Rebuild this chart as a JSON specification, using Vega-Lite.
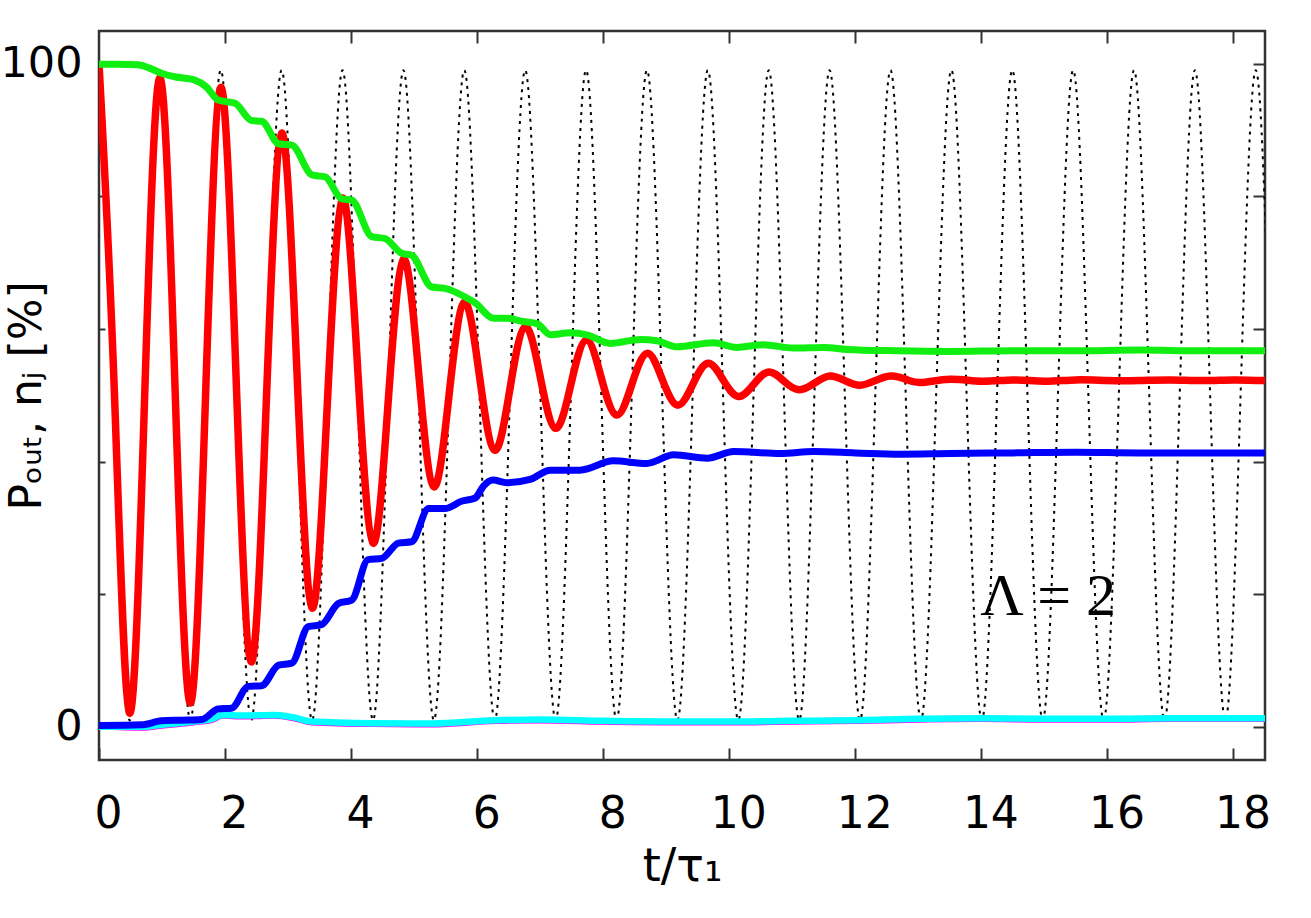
{
  "$schema": "https://vega.github.io/schema/vega-lite/v6.json",
  "autosize": {"type": "none"},
  "padding": {"left": 99, "top": 31, "right": 46, "bottom": 158},
  "width": 1166,
  "height": 729,
  "background": "white",
  "config": {
    "view": {"stroke": "#333333", "strokeWidth": 2.5},
    "axis": {
      "domain": false,
      "grid": false,
      "tickColor": "#333333",
      "tickWidth": 2,
      "labelFont": "DejaVu Sans",
      "titleFont": "DejaVu Sans",
      "labelColor": "#000000",
      "titleColor": "#000000",
      "titleFontWeight": "normal"
    }
  },
  "datasets": {
    "osc": [
      {"t": 0, "v": 100}, {"t": 0.2415, "v": 50}, {"t": 0.483, "v": 1}, {"t": 0.7245, "v": 50},
      {"t": 0.966, "v": 99}, {"t": 1.2075, "v": 50}, {"t": 1.449, "v": 1}, {"t": 1.6905, "v": 50},
      {"t": 1.932, "v": 99}, {"t": 2.1735, "v": 50}, {"t": 2.415, "v": 1}, {"t": 2.6565, "v": 50},
      {"t": 2.898, "v": 99}, {"t": 3.1395, "v": 50}, {"t": 3.381, "v": 1}, {"t": 3.6225, "v": 50},
      {"t": 3.864, "v": 99}, {"t": 4.1055, "v": 50}, {"t": 4.347, "v": 1}, {"t": 4.5885, "v": 50},
      {"t": 4.83, "v": 99}, {"t": 5.0715, "v": 50}, {"t": 5.313, "v": 1}, {"t": 5.5545, "v": 50},
      {"t": 5.796, "v": 99}, {"t": 6.0375, "v": 50}, {"t": 6.279, "v": 1}, {"t": 6.5205, "v": 50},
      {"t": 6.762, "v": 99}, {"t": 7.0035, "v": 50}, {"t": 7.245, "v": 1}, {"t": 7.4865, "v": 50},
      {"t": 7.728, "v": 99}, {"t": 7.9695, "v": 50}, {"t": 8.211, "v": 1}, {"t": 8.4525, "v": 50},
      {"t": 8.694, "v": 99}, {"t": 8.9355, "v": 50}, {"t": 9.177, "v": 1}, {"t": 9.4185, "v": 50},
      {"t": 9.66, "v": 99}, {"t": 9.9015, "v": 50}, {"t": 10.143, "v": 1}, {"t": 10.3845, "v": 50},
      {"t": 10.626, "v": 99}, {"t": 10.8675, "v": 50}, {"t": 11.109, "v": 1}, {"t": 11.3505, "v": 50},
      {"t": 11.592, "v": 99}, {"t": 11.8335, "v": 50}, {"t": 12.075, "v": 1}, {"t": 12.3165, "v": 50},
      {"t": 12.558, "v": 99}, {"t": 12.7995, "v": 50}, {"t": 13.041, "v": 1}, {"t": 13.2825, "v": 50},
      {"t": 13.524, "v": 99}, {"t": 13.7655, "v": 50}, {"t": 14.007, "v": 1}, {"t": 14.2485, "v": 50},
      {"t": 14.49, "v": 99}, {"t": 14.7315, "v": 50}, {"t": 14.973, "v": 1}, {"t": 15.2145, "v": 50},
      {"t": 15.456, "v": 99}, {"t": 15.6975, "v": 50}, {"t": 15.939, "v": 1}, {"t": 16.1805, "v": 50},
      {"t": 16.422, "v": 99}, {"t": 16.6635, "v": 50}, {"t": 16.905, "v": 1}, {"t": 17.1465, "v": 50},
      {"t": 17.388, "v": 99}, {"t": 17.6295, "v": 50}, {"t": 17.871, "v": 1}, {"t": 18.1125, "v": 50},
      {"t": 18.354, "v": 99}, {"t": 18.5955, "v": 50}
    ],
    "red": [
      {"t": 0, "v": 100}, {"t": 0.242, "v": 51}, {"t": 0.483, "v": 2.1}, {"t": 0.725, "v": 50},
      {"t": 0.966, "v": 97.8}, {"t": 1.208, "v": 50.7}, {"t": 1.449, "v": 3.6}, {"t": 1.691, "v": 50},
      {"t": 1.932, "v": 96.4}, {"t": 2.174, "v": 53}, {"t": 2.415, "v": 9.8}, {"t": 2.657, "v": 49.6},
      {"t": 2.898, "v": 89.5}, {"t": 3.14, "v": 53.7}, {"t": 3.381, "v": 17.9}, {"t": 3.623, "v": 48.8},
      {"t": 3.864, "v": 79.7}, {"t": 4.106, "v": 53.7}, {"t": 4.347, "v": 27.7}, {"t": 4.589, "v": 49.1},
      {"t": 4.83, "v": 70.5}, {"t": 5.072, "v": 53.3}, {"t": 5.313, "v": 36.2}, {"t": 5.555, "v": 50.1},
      {"t": 5.796, "v": 64}, {"t": 6.038, "v": 52.8}, {"t": 6.279, "v": 41.7}, {"t": 6.521, "v": 51},
      {"t": 6.762, "v": 60.3}, {"t": 7.004, "v": 52.6}, {"t": 7.245, "v": 45}, {"t": 7.487, "v": 51.6},
      {"t": 7.728, "v": 58.3}, {"t": 7.97, "v": 52.6}, {"t": 8.211, "v": 47}, {"t": 8.453, "v": 51.6},
      {"t": 8.694, "v": 56.3}, {"t": 8.936, "v": 52.4}, {"t": 9.177, "v": 48.5}, {"t": 9.419, "v": 51.6},
      {"t": 9.66, "v": 54.8}, {"t": 9.902, "v": 52.3}, {"t": 10.143, "v": 49.8}, {"t": 10.385, "v": 51.6},
      {"t": 10.626, "v": 53.5}, {"t": 10.868, "v": 52.1}, {"t": 11.109, "v": 50.8}, {"t": 11.351, "v": 51.8},
      {"t": 11.592, "v": 52.9}, {"t": 11.834, "v": 52.2}, {"t": 12.075, "v": 51.5}, {"t": 12.317, "v": 52.2},
      {"t": 12.558, "v": 52.9}, {"t": 12.8, "v": 52.4}, {"t": 13.04, "v": 51.9}, {"t": 13.5, "v": 52.4},
      {"t": 14, "v": 52.1}, {"t": 14.5, "v": 52.3}, {"t": 15, "v": 52.1}, {"t": 15.5, "v": 52.3},
      {"t": 16, "v": 52.2}, {"t": 16.5, "v": 52.2}, {"t": 17, "v": 52.3}, {"t": 17.5, "v": 52.2},
      {"t": 18, "v": 52.3}, {"t": 18.5, "v": 52.2}
    ],
    "green": [
      {"t": 0, "v": 99.9}, {"t": 0.3, "v": 99.9}, {"t": 0.62, "v": 99.8}, {"t": 0.8, "v": 99.3},
      {"t": 1.0, "v": 98.5}, {"t": 1.2, "v": 98.0}, {"t": 1.52, "v": 97.5}, {"t": 1.7, "v": 96.5},
      {"t": 1.89, "v": 94.5}, {"t": 2.16, "v": 94.0}, {"t": 2.42, "v": 91.4}, {"t": 2.58, "v": 91.3},
      {"t": 2.85, "v": 87.9}, {"t": 3.06, "v": 87.7}, {"t": 3.38, "v": 83.2}, {"t": 3.59, "v": 82.9},
      {"t": 3.85, "v": 79.6}, {"t": 4.01, "v": 79.4}, {"t": 4.33, "v": 73.9}, {"t": 4.54, "v": 73.6},
      {"t": 4.8, "v": 71.4}, {"t": 4.96, "v": 71.1}, {"t": 5.28, "v": 66.3}, {"t": 5.49, "v": 66.1},
      {"t": 5.81, "v": 64.8}, {"t": 5.97, "v": 63.9}, {"t": 6.26, "v": 61.6}, {"t": 6.47, "v": 61.6},
      {"t": 6.73, "v": 61.1}, {"t": 6.95, "v": 60.8}, {"t": 7.16, "v": 59.1}, {"t": 7.48, "v": 59.4},
      {"t": 7.74, "v": 59.1}, {"t": 8.11, "v": 57.8}, {"t": 8.59, "v": 58.4}, {"t": 8.85, "v": 58.2},
      {"t": 9.17, "v": 57.3}, {"t": 9.75, "v": 57.9}, {"t": 10.12, "v": 57.2}, {"t": 10.54, "v": 57.6},
      {"t": 11.02, "v": 57.1}, {"t": 11.5, "v": 57.2}, {"t": 11.87, "v": 56.9}, {"t": 12.66, "v": 56.7},
      {"t": 13.5, "v": 56.6}, {"t": 14.5, "v": 56.7}, {"t": 15.5, "v": 56.7}, {"t": 16.5, "v": 56.8},
      {"t": 17.5, "v": 56.7}, {"t": 18.5, "v": 56.7}
    ],
    "blue": [
      {"t": 0, "v": 0.2}, {"t": 0.68, "v": 0.3}, {"t": 0.99, "v": 0.9}, {"t": 1.3, "v": 1.0},
      {"t": 1.63, "v": 1.1}, {"t": 1.89, "v": 2.7}, {"t": 2.1, "v": 2.8}, {"t": 2.37, "v": 6.1},
      {"t": 2.58, "v": 6.2}, {"t": 2.85, "v": 9.3}, {"t": 3.06, "v": 9.6}, {"t": 3.32, "v": 15.1},
      {"t": 3.53, "v": 15.4}, {"t": 3.8, "v": 18.6}, {"t": 4.01, "v": 19.1}, {"t": 4.27, "v": 25.2},
      {"t": 4.49, "v": 25.4}, {"t": 4.75, "v": 27.7}, {"t": 4.96, "v": 27.9}, {"t": 5.23, "v": 32.9},
      {"t": 5.49, "v": 32.9}, {"t": 5.75, "v": 34.0}, {"t": 5.97, "v": 34.5}, {"t": 6.1, "v": 36.3},
      {"t": 6.25, "v": 37.2}, {"t": 6.47, "v": 36.8}, {"t": 6.84, "v": 37.3}, {"t": 7.16, "v": 38.7},
      {"t": 7.63, "v": 38.7}, {"t": 8.16, "v": 40.1}, {"t": 8.69, "v": 39.7}, {"t": 9.12, "v": 41.0},
      {"t": 9.65, "v": 40.5}, {"t": 10.07, "v": 41.5}, {"t": 10.81, "v": 41.2}, {"t": 11.34, "v": 41.5},
      {"t": 12.0, "v": 41.3}, {"t": 12.71, "v": 41.1}, {"t": 13.5, "v": 41.2}, {"t": 14.5, "v": 41.3},
      {"t": 15.5, "v": 41.4}, {"t": 16.5, "v": 41.3}, {"t": 17.5, "v": 41.3}, {"t": 18.5, "v": 41.3}
    ],
    "magenta": [
      {"t": 0, "v": 0.1}, {"t": 0.7, "v": -0.1}, {"t": 1.0, "v": 0.2}, {"t": 1.5, "v": 0.7},
      {"t": 1.8, "v": 1.1}, {"t": 1.95, "v": 1.7}, {"t": 2.3, "v": 1.6}, {"t": 2.79, "v": 1.7},
      {"t": 3.1, "v": 1.3}, {"t": 3.37, "v": 0.7}, {"t": 4.33, "v": 0.45}, {"t": 5.28, "v": 0.4},
      {"t": 6.29, "v": 0.9}, {"t": 7, "v": 1.0}, {"t": 8, "v": 0.8}, {"t": 9, "v": 0.7},
      {"t": 10, "v": 0.7}, {"t": 11, "v": 0.8}, {"t": 12, "v": 0.9}, {"t": 13, "v": 1.1},
      {"t": 14, "v": 1.2}, {"t": 15, "v": 1.1}, {"t": 16, "v": 1.1}, {"t": 17, "v": 1.2},
      {"t": 18.5, "v": 1.2}
    ],
    "cyan": [
      {"t": 0, "v": 0.0}, {"t": 0.7, "v": 0.0}, {"t": 1.0, "v": 0.3}, {"t": 1.5, "v": 0.8},
      {"t": 1.8, "v": 1.2}, {"t": 1.95, "v": 1.8}, {"t": 2.3, "v": 1.7}, {"t": 2.79, "v": 1.8},
      {"t": 3.1, "v": 1.4}, {"t": 3.37, "v": 0.8}, {"t": 4.33, "v": 0.55}, {"t": 5.28, "v": 0.5},
      {"t": 6.29, "v": 1.0}, {"t": 7, "v": 1.1}, {"t": 8, "v": 0.9}, {"t": 9, "v": 0.8},
      {"t": 10, "v": 0.8}, {"t": 11, "v": 0.9}, {"t": 12, "v": 1.0}, {"t": 13, "v": 1.2},
      {"t": 14, "v": 1.3}, {"t": 15, "v": 1.2}, {"t": 16, "v": 1.2}, {"t": 17, "v": 1.3},
      {"t": 18.5, "v": 1.3}
    ],
    "note": [
      {"t": 15.06, "v": 16.9, "label": "Λ = 2"}
    ]
  },
  "resolve": {"axis": {"x": "independent", "y": "independent"}},
  "layer": [
    {
      "data": {"name": "osc"},
      "mark": {"type": "line", "interpolate": "natural", "color": "#000000", "strokeWidth": 2, "strokeDash": [3, 5], "clip": true},
      "encoding": {
        "x": {
          "field": "t", "type": "quantitative",
          "scale": {"domain": [0, 18.5], "nice": false, "zero": false},
          "axis": {
            "orient": "bottom",
            "values": [0, 2, 4, 6, 8, 10, 12, 14, 16, 18],
            "tickSize": -12,
            "labelPadding": 44,
            "labelOffset": 9,
            "labelFontSize": 44,
            "labelFlush": false,
            "title": "t/τ₁",
            "titleFontSize": 46,
            "titlePadding": 8
          }
        },
        "y": {
          "field": "v", "type": "quantitative",
          "scale": {"domain": [-5, 104.9], "nice": false, "zero": false},
          "axis": {
            "orient": "left",
            "values": [0, 20, 40, 60, 80, 100],
            "labelExpr": "datum.value == 0 || datum.value == 100 ? datum.label : ''",
            "tickSize": -6,
            "labelPadding": 23,
            "labelFontSize": 43,
            "labelFlush": false,
            "title": "Pₒᵤₜ, nⱼ [%]",
            "titleFontSize": 44,
            "titlePadding": -50
          }
        }
      }
    },
    {
      "data": {"name": "magenta"},
      "mark": {"type": "line", "interpolate": "monotone", "color": "#ff00ff", "strokeWidth": 6.5, "clip": true},
      "encoding": {
        "x": {
          "field": "t", "type": "quantitative",
          "scale": {"domain": [0, 18.5], "nice": false, "zero": false},
          "axis": {"orient": "top", "values": [2, 4, 6, 8, 10, 12, 14, 16, 18], "tickSize": -12, "labels": false, "title": null}
        },
        "y": {
          "field": "v", "type": "quantitative",
          "scale": {"domain": [-5, 104.9], "nice": false, "zero": false},
          "axis": {"orient": "right", "values": [0, 20, 40, 60, 80, 100], "tickSize": -12, "labels": false, "title": null}
        }
      }
    },
    {
      "data": {"name": "cyan"},
      "mark": {"type": "line", "interpolate": "monotone", "color": "#00ffff", "strokeWidth": 6.5, "clip": true},
      "encoding": {
        "x": {"field": "t", "type": "quantitative", "scale": {"domain": [0, 18.5], "nice": false, "zero": false}, "axis": null},
        "y": {"field": "v", "type": "quantitative", "scale": {"domain": [-5, 104.9], "nice": false, "zero": false}, "axis": null}
      }
    },
    {
      "data": {"name": "blue"},
      "mark": {"type": "line", "interpolate": "monotone", "color": "#0000ff", "strokeWidth": 7, "clip": true},
      "encoding": {
        "x": {"field": "t", "type": "quantitative", "scale": {"domain": [0, 18.5], "nice": false, "zero": false}, "axis": null},
        "y": {"field": "v", "type": "quantitative", "scale": {"domain": [-5, 104.9], "nice": false, "zero": false}, "axis": null}
      }
    },
    {
      "data": {"name": "red"},
      "mark": {"type": "line", "interpolate": "natural", "color": "#ff0000", "strokeWidth": 7.5, "clip": true},
      "encoding": {
        "x": {"field": "t", "type": "quantitative", "scale": {"domain": [0, 18.5], "nice": false, "zero": false}, "axis": null},
        "y": {"field": "v", "type": "quantitative", "scale": {"domain": [-5, 104.9], "nice": false, "zero": false}, "axis": null}
      }
    },
    {
      "data": {"name": "green"},
      "mark": {"type": "line", "interpolate": "monotone", "color": "#11ee11", "strokeWidth": 7, "clip": true},
      "encoding": {
        "x": {"field": "t", "type": "quantitative", "scale": {"domain": [0, 18.5], "nice": false, "zero": false}, "axis": null},
        "y": {"field": "v", "type": "quantitative", "scale": {"domain": [-5, 104.9], "nice": false, "zero": false}, "axis": null}
      }
    },
    {
      "data": {"name": "note"},
      "mark": {"type": "text", "font": "Liberation Serif", "fontSize": 60, "align": "center", "baseline": "alphabetic", "color": "#000000"},
      "encoding": {
        "x": {"field": "t", "type": "quantitative", "scale": {"domain": [0, 18.5], "nice": false, "zero": false}, "axis": null},
        "y": {"field": "v", "type": "quantitative", "scale": {"domain": [-5, 104.9], "nice": false, "zero": false}, "axis": null},
        "text": {"field": "label", "type": "nominal"}
      }
    }
  ]
}
